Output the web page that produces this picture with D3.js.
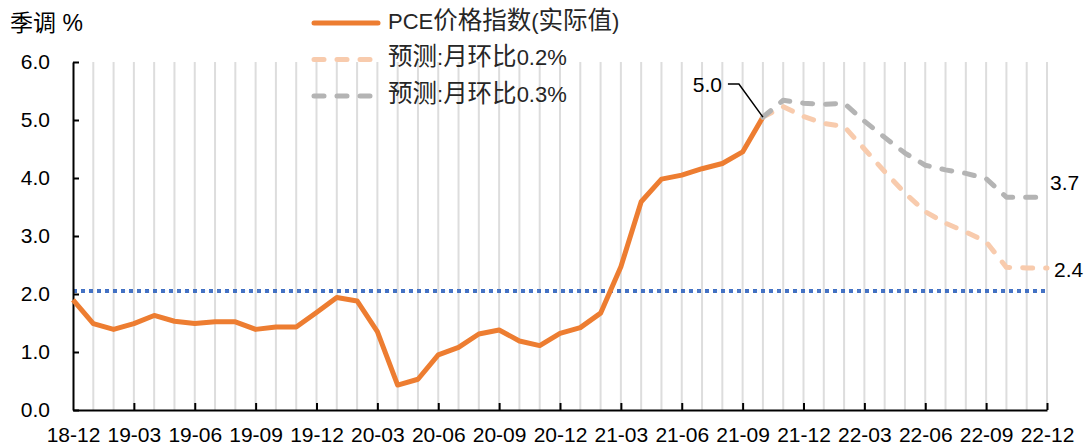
<!DOCTYPE html>
<html>
<head>
<meta charset="utf-8">
<script src="https://cdn.jsdelivr.net/npm/d3@7"></script>
<style>
  html, body { margin: 0; padding: 0; background: #fff; }
  svg { display: block; }
</style>
</head>
<body>
<svg id="chart" width="1088" height="446"></svg>
<script>
// ---------------- data ----------------
const months = [
  "18-12",
  "19-01","19-02","19-03","19-04","19-05","19-06","19-07","19-08","19-09","19-10","19-11","19-12",
  "20-01","20-02","20-03","20-04","20-05","20-06","20-07","20-08","20-09","20-10","20-11","20-12",
  "21-01","21-02","21-03","21-04","21-05","21-06","21-07","21-08","21-09","21-10","21-11","21-12",
  "22-01","22-02","22-03","22-04","22-05","22-06","22-07","22-08","22-09","22-10","22-11","22-12"
];
const xTickLabels = ["18-12","19-03","19-06","19-09","19-12","20-03","20-06","20-09","20-12",
                     "21-03","21-06","21-09","21-12","22-03","22-06","22-09","22-12"];
const yTicks = [0, 1, 2, 3, 4, 5, 6];

// PCE price index YoY (actual), 18-12 .. 21-10
const actual = [1.90, 1.49, 1.39, 1.49, 1.63, 1.53, 1.49, 1.52, 1.52, 1.39, 1.43, 1.43, 1.68,
                1.94, 1.88, 1.35, 0.43, 0.53, 0.95, 1.08, 1.31, 1.38, 1.19, 1.11, 1.32,
                1.42, 1.67, 2.47, 3.59, 3.98, 4.05, 4.16, 4.25, 4.45, 5.05];
// Forecasts, 21-10 .. 22-12
const forecastStart = "21-10";
const forecast02 = [5.05, 5.23, 5.06, 4.94, 4.89, 4.50, 4.11, 3.74, 3.42, 3.22, 3.07, 2.90, 2.46, 2.45, 2.45];
const forecast03 = [5.05, 5.34, 5.29, 5.27, 5.29, 4.98, 4.70, 4.43, 4.22, 4.14, 4.08, 3.99, 3.67, 3.67, 3.67];
const targetLevel = 2.05;

const legendLabels = ["PCE价格指数(实际值)", "预测:月环比0.2%", "预测:月环比0.3%"];
const yTitle = "季调 %";
const pointLabels = ["5.0", "3.7", "2.4"];

// ---------------- layout ----------------
const svg = d3.select("#chart");
const X0 = 73, X1 = 1047, Y0 = 410, Y1 = 62;
const x = d3.scalePoint().domain(months).range([X0, X1]);
const y = d3.scaleLinear().domain([0, 6]).range([Y0, Y1]);

const LATIN = "'Liberation Sans', Arial, 'Noto Sans CJK SC', sans-serif";
const CJK = "'Noto Sans CJK SC', 'Liberation Sans', sans-serif";
const COL_ACT = "#ED7D31", COL_F02 = "#F8CBAD", COL_F03 = "#B4B4B4", COL_TGT = "#4472C4";

function mixedText(sel, str, latinSize, cjkSize) {
  const runs = str.match(/[\u3000-\u9fff\uff00-\uffef]+|[^\u3000-\u9fff\uff00-\uffef]+/g) || [];
  runs.forEach(r => {
    const isCjk = /[\u3000-\u9fff\uff00-\uffef]/.test(r);
    sel.append("tspan")
      .attr("font-family", isCjk ? CJK : LATIN)
      .attr("font-size", (isCjk ? cjkSize : latinSize) + "px")
      .text(r);
  });
}

// gridlines (every month)
svg.append("g").selectAll("line")
  .data(months.slice(1))
  .join("line")
  .attr("x1", d => x(d)).attr("x2", d => x(d))
  .attr("y1", y(0)).attr("y2", y(6))
  .attr("stroke", "#DDDDDD").attr("stroke-width", 2);

// target line
svg.append("line")
  .attr("x1", X0).attr("x2", X1)
  .attr("y1", y(targetLevel)).attr("y2", y(targetLevel))
  .attr("stroke", COL_TGT).attr("stroke-width", 4)
  .attr("stroke-dasharray", "4,4");

// axes
const yAxis = d3.axisLeft(y).tickValues(yTicks).tickFormat(d3.format(".1f"))
  .tickSizeInner(-6).tickSizeOuter(0).tickPadding(23);
const gy = svg.append("g").attr("transform", `translate(${X0},0)`).call(yAxis);
const xAxis = d3.axisBottom(x).tickValues(xTickLabels)
  .tickSizeInner(-7).tickSizeOuter(0).tickPadding(17);
const gx = svg.append("g").attr("transform", `translate(0,${Y0})`).call(xAxis);

[gx, gy].forEach(g => {
  g.select(".domain").attr("stroke", "#000").attr("stroke-width", 2);
  g.selectAll(".tick line").attr("stroke", "#000").attr("stroke-width", 2);
  g.selectAll(".tick text").attr("font-family", LATIN).attr("font-size", 21).attr("fill", "#000");
});
gx.selectAll(".tick").filter(d => d === months[0]).select("line").remove();

// lines
const startIdx = months.indexOf(forecastStart);
const line = d3.line().x(d => x(d.m)).y(d => y(d.v));
const actData = actual.map((v, i) => ({ m: months[i], v }));
const f02Data = forecast02.map((v, i) => ({ m: months[startIdx + i], v }));
const f03Data = forecast03.map((v, i) => ({ m: months[startIdx + i], v }));

svg.append("path").datum(actData).attr("d", line)
  .attr("fill", "none").attr("stroke", COL_ACT).attr("stroke-width", 5)
  .attr("stroke-linejoin", "round");
svg.append("path").datum(f02Data).attr("d", line)
  .attr("fill", "none").attr("stroke", COL_F02).attr("stroke-width", 5)
  .attr("stroke-linejoin", "round").attr("stroke-linecap", "round")
  .attr("stroke-dasharray", "10,13");
svg.append("path").datum(f03Data).attr("d", line)
  .attr("fill", "none").attr("stroke", COL_F03).attr("stroke-width", 5)
  .attr("stroke-linejoin", "round").attr("stroke-linecap", "round")
  .attr("stroke-dasharray", "10,13");

// annotations
const pAct = actData[actData.length - 1];
const px = x(pAct.m), py = y(pAct.v);
svg.append("polyline")
  .attr("points", [[px - 35, py - 33], [px - 24, py - 33], [px, py]].map(p => p.join(",")).join(" "))
  .attr("fill", "none").attr("stroke", "#000").attr("stroke-width", 1.5);
svg.append("text").attr("x", px - 41).attr("y", py - 32).attr("dy", "0.35em")
  .attr("text-anchor", "end").attr("font-family", LATIN).attr("font-size", 21)
  .text(pointLabels[0]);

const p03 = f03Data[f03Data.length - 1];
svg.append("text").attr("x", x(p03.m) + 3).attr("y", y(p03.v) - 14).attr("dy", "0.35em")
  .attr("font-family", LATIN).attr("font-size", 21).text(pointLabels[1]);
const p02 = f02Data[f02Data.length - 1];
svg.append("text").attr("x", x(p02.m) + 7).attr("y", y(p02.v) + 2).attr("dy", "0.35em")
  .attr("font-family", LATIN).attr("font-size", 21).text(pointLabels[2]);

// y title
const tt = svg.append("text").attr("x", 10).attr("y", 25).attr("dy", "0.35em").attr("fill", "#000");
mixedText(tt, yTitle, 23, 23);

// legend
const legendItems = [
  { label: legendLabels[0], color: COL_ACT, dash: null },
  { label: legendLabels[1], color: COL_F02, dash: "10,13" },
  { label: legendLabels[2], color: COL_F03, dash: "10,13" }
];
const lg = svg.append("g");
legendItems.forEach((it, i) => {
  const cy = 23 + i * 36.5;
  lg.append("line").attr("x1", 314).attr("x2", 378).attr("y1", cy).attr("y2", cy)
    .attr("stroke", it.color).attr("stroke-width", 5).attr("stroke-linecap", "round")
    .attr("stroke-dasharray", it.dash);
  const t = lg.append("text").attr("x", 388).attr("y", cy).attr("dy", "0.35em").attr("fill", "#262626");
  mixedText(t, it.label, 22, 24.5);
});
</script>
</body>
</html>
